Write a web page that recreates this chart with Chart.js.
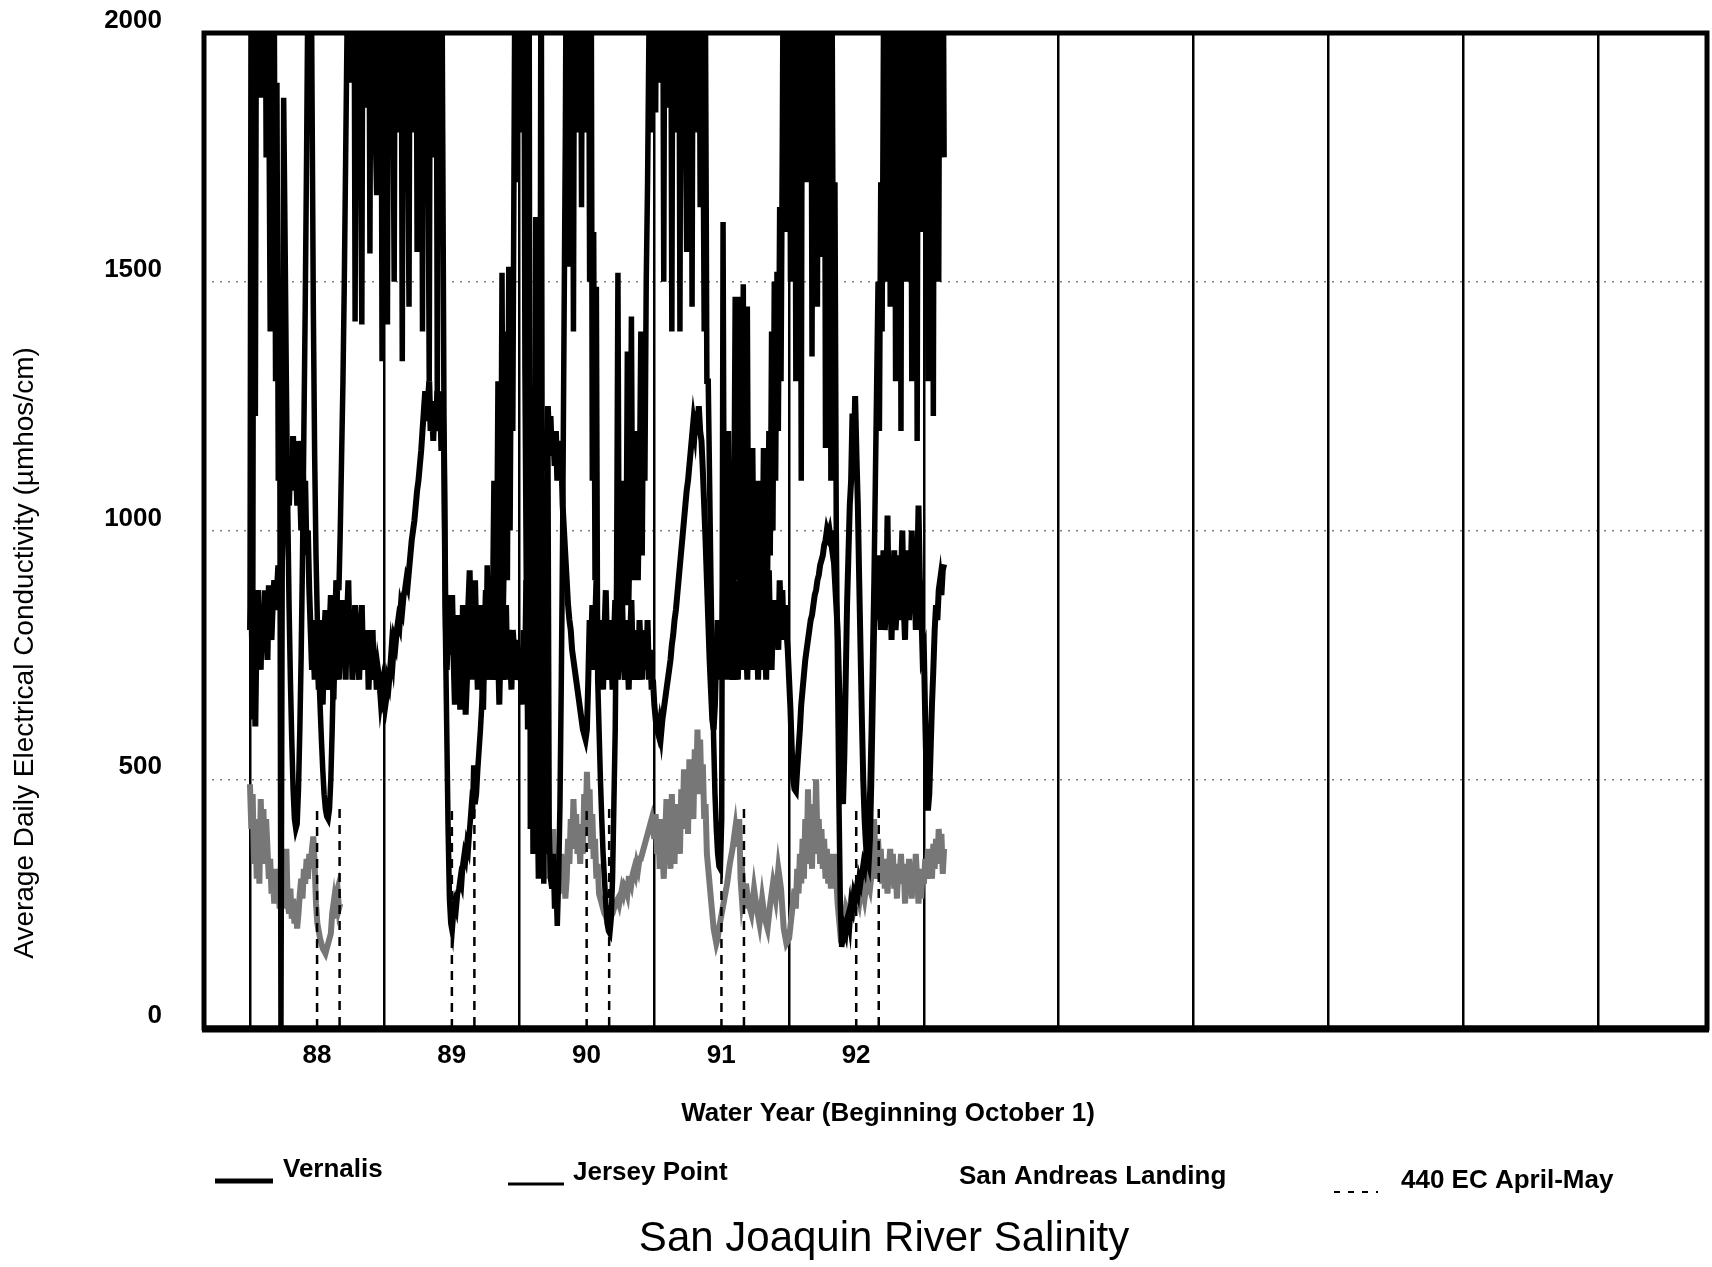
<!DOCTYPE html>
<html>
<head>
<meta charset="utf-8">
<title>San Joaquin River Salinity</title>
<script src="https://cdn.jsdelivr.net/npm/chart.js@4.4.1/dist/chart.umd.min.js"></script>
<style>
    html, body { margin: 0; padding: 0; background: #fff; }
    #chartBox { width: 1712px; height: 1267px; }
</style>
</head>
<body>
<div id="chartBox"><canvas id="salinityChart"></canvas></div>
<script>
// Time runs in years since October 1, 1987 (start of water year 88), one reading every 0.01 year.
// EC values in umhos/cm; readings above 2000 run off the top of the plot.

var stepYears = 0.01;

var yearLabels = ['88', '89', '90', '91', '92'];
var yearBoundaries = [0, 1, 2, 3, 4, 5, 6, 7, 8, 9, 10];
var ecTicks = [0, 500, 1000, 1500, 2000];

// 440 EC standard, April 1 to May 31 of each water year
var ecLimit = 440;
var ecWindowStart = [0.498, 1.498, 2.498, 3.498, 4.498];
var ecWindowEnd = [0.665, 1.665, 2.665, 3.665, 4.665];

// Jersey Point, from 0.00 to 5.15
var jerseyPointEC = [
    800, 2400, 620, 2400, 1230, 2400, 1900, 2400, 1870, 2400,
    2000, 2400, 1750, 2400, 1900, 1400, 2400, 1950, 2100, 1300,
    1900, 1100, 1400, 0, 1000, 1870, 1600, 1300, 1050, 850,
    700, 580, 480, 420, 400, 410, 480, 600, 750, 950,
    1200, 1450, 1750, 2100, 2400, 2400, 1900, 1450, 1150, 950,
    820, 720, 650, 580, 520, 470, 440, 425, 420, 440,
    500, 600, 720, 850, 780, 900, 880, 1000, 1150, 1300,
    1500, 1750, 2000, 2400, 1900, 2400, 2000, 2400, 1420, 2400,
    1900, 2400, 1800, 1414, 2400, 1950, 2400, 1850, 2400, 1557,
    2400, 1900, 2400, 1800, 1674, 2400, 1950, 2400, 1340, 2400,
    1900, 2400, 1414, 2400, 1850, 2400, 1950, 1500, 2400, 1900,
    2400, 1800, 2400, 1340, 2400, 1950, 2400, 1850, 1450, 2400,
    1900, 2400, 1800, 2400, 1560, 2400, 2000, 2400, 1400, 2400,
    1900, 2400, 1850, 1300, 2400, 1950, 2400, 1750, 2400, 1250,
    2400, 1900, 2400, 1800, 1200, 800, 600, 400, 260, 210,
    195, 230, 250, 240, 270, 280, 300, 290, 330, 350,
    340, 370, 360, 400, 436, 420, 528, 450, 470, 520,
    560, 600, 650, 710, 800, 700, 930, 750, 900, 700,
    850, 1100, 750, 900, 1300, 800, 950, 1518, 850, 1000,
    1400, 900, 1530, 1000, 1470, 1200, 1800, 2400, 1700, 2400,
    2400, 2400, 1800, 2400, 1330, 900, 600, 2400, 400, 900,
    350, 650, 1630, 500, 300, 800, 2400, 700, 290, 600,
    350, 1230, 400, 300, 280, 350, 240, 300, 205, 300,
    450, 700, 1000, 1400, 1800, 2400, 1530, 2400, 1900, 2400,
    1400, 2400, 2000, 2400, 1800, 2400, 1650, 2400, 1950, 2400,
    1800, 2400, 1500, 2400, 1100, 1600, 900, 1490, 700, 600,
    500, 420, 350, 300, 250, 210, 195, 190, 220, 300,
    450, 600, 900, 1518, 800, 950, 1100, 850, 1000, 900,
    1360, 850, 1000, 1430, 900, 1050, 950, 1200, 900, 1100,
    1400, 950, 1320, 1100, 1500, 1700, 2000, 2400, 1800, 2400,
    2400, 1840, 2400, 1950, 2400, 1900, 2400, 1500, 2400, 2000,
    2400, 1850, 2400, 1400, 2400, 1950, 2400, 1800, 2400, 1400,
    2400, 1900, 2400, 1850, 1560, 2400, 2000, 2400, 1450, 2400,
    1900, 2400, 1800, 2400, 1650, 2400, 1900, 1400, 2000, 1300,
    1300, 1100, 900, 720, 580, 470, 400, 350, 325, 320,
    420, 1620, 800, 1000, 850, 1200, 900, 1050, 800, 1000,
    1470, 900, 1100, 1470, 850, 1000, 1495, 800, 950, 1450,
    850, 1000, 800, 1166, 850, 950, 800, 1100, 850, 1000,
    900, 1166, 850, 1000, 900, 1200, 950, 1400, 1000, 1500,
    1100, 1520, 1200, 1650, 1300, 1800, 2400, 1600, 2400, 1700,
    2400, 1500, 2400, 1900, 2400, 1300, 2400, 1950, 2400, 1100,
    2400, 1850, 2400, 1700, 2400, 1950, 2400, 1350, 2400, 1900,
    2400, 1450, 2400, 1950, 2400, 1550, 2400, 1166, 2400, 1800,
    2400, 1100, 2000, 1300, 1700, 1000, 700, 450, 250, 163,
    180, 200, 190, 220, 230, 210, 250, 240, 270, 260,
    280, 270, 300, 290, 310, 330, 320, 350, 380, 420,
    480, 600, 750, 900, 1100, 1300, 1500, 1200, 1700, 1400,
    2000, 1500, 2400, 1900, 2400, 1450, 2400, 1850, 2400, 1300,
    2400, 1750, 2400, 1200, 2400, 1900, 2400, 1500, 2400, 1800,
    2400, 1300, 2400, 1900, 2400, 1180, 2400, 1750, 2400, 1600,
    2400, 1950, 2400, 1300, 2400, 1850, 2400, 1230, 2400, 1800,
    2400, 1500, 2400, 1900, 2400, 1750
];

// Vernalis, from 0.00 to 5.15
var vernalisEC = [
    800, 860, 700, 780, 606, 820, 880, 780, 720, 850,
    760, 880, 800, 740, 890, 820, 780, 860, 900, 840,
    880, 930, 850, 900, 950, 1000, 1050, 980, 1100, 1050,
    1150, 1100, 1190, 1080, 1150, 1050, 1180, 1100, 1000, 1150,
    1050, 1100, 950, 1000, 880, 800, 720, 780, 700, 820,
    760, 680, 820, 740, 650, 780, 840, 720, 680, 800,
    870, 720, 660, 780, 900, 760, 700, 800, 860, 740,
    780, 700, 820, 900, 760, 820, 700, 760, 850, 780,
    760, 700, 780, 850, 720, 790, 730, 800, 680, 760,
    730, 800, 700, 760, 680, 720, 700, 660, 680, 650,
    640, 660, 700, 690, 720, 760, 740, 780, 770, 800,
    820, 810, 850, 840, 870, 880, 900, 890, 920, 950,
    980, 1000, 1020, 1050, 1080, 1100, 1130, 1160, 1200, 1240,
    1280, 1220, 1260, 1300, 1200, 1250, 1180, 1260, 1200, 1280,
    1200, 1280, 1160, 1250, 1160, 850, 720, 800, 870, 750,
    870, 750, 650, 700, 830, 720, 640, 700, 850, 760,
    630, 700, 850, 920, 780, 700, 800, 900, 780, 680,
    760, 850, 730, 640, 780, 880, 700, 780, 850, 700,
    800, 750, 700, 820, 760, 650, 780, 880, 700, 760,
    850, 700, 800, 750, 680, 800, 760, 700, 780, 720,
    700, 750, 650, 800, 700, 900, 750, 850, 800, 950,
    900, 1050, 1000, 1100, 1080, 1150, 1100, 1180, 1120, 1200,
    1150, 1250, 1180, 1230, 1150, 1200, 1130, 1200, 1100, 1180,
    1100, 1150, 1050, 1000, 950, 900, 850, 820, 800, 760,
    740, 720, 700, 680, 660, 640, 620, 600, 590, 580,
    600, 700, 820, 760, 850, 720, 800, 900, 760, 700,
    820, 750, 680, 800, 880, 750, 700, 820, 760, 680,
    780, 860, 740, 700, 800, 760, 880, 750, 700, 820,
    760, 680, 780, 860, 740, 700, 800, 760, 700, 820,
    750, 700, 800, 760, 720, 820, 700, 760, 680, 700,
    650, 620, 600, 590, 610, 590, 620, 640, 660, 680,
    700, 720, 740, 770, 790, 820, 840, 870, 900, 930,
    960, 990, 1020, 1050, 1080, 1100, 1130, 1160, 1190, 1220,
    1200, 1240, 1210, 1250, 1200, 1180, 1120, 1050, 980, 900,
    820, 740, 680, 620, 600, 650, 750, 820, 700, 780,
    700, 900, 780, 850, 700, 820, 950, 760, 700, 850,
    900, 760, 700, 820, 900, 770, 720, 850, 780, 700,
    860, 920, 780, 720, 820, 860, 800, 700, 850, 780,
    720, 850, 780, 700, 860, 920, 780, 720, 820, 860,
    800, 860, 760, 900, 820, 880, 780, 850, 800, 760,
    700, 640, 560, 500, 480, 476, 520, 560, 600, 650,
    680, 710, 740, 760, 780, 800, 820, 830, 850, 870,
    880, 900, 910, 930, 940, 950, 970, 980, 1000, 990,
    1000, 980, 1000, 950, 900, 850, 800, 700, 600, 500,
    450, 550, 700, 850, 950, 1050, 1100, 1235, 1150, 1270,
    1150, 1050, 900, 760, 620, 500, 420, 370, 340, 330,
    380, 500, 650, 800, 900, 820, 880, 950, 800, 870,
    960, 800, 850, 1030, 820, 900, 780, 880, 960, 800,
    850, 950, 820, 900, 1000, 850, 780, 900, 960, 820,
    880, 1000, 850, 920, 800, 900, 1050, 900, 850, 750,
    760, 620, 500, 437, 470, 560, 650, 720, 800, 850,
    820, 880, 900, 870, 920, 932
];

// San Andreas Landing, two recorded stretches: from 0.00 to 0.67 and from 2.22 to 5.15
var sanAndreasStart88 = 0.00;
var sanAndreasEC88 = [
    490, 400, 470, 330, 420, 300, 380, 290, 460, 350,
    440, 330, 420, 360, 300, 340, 270, 310, 250, 320,
    260, 300, 240, 330, 270, 300, 240, 360, 250, 230,
    280, 220, 260, 210, 240, 200, 230, 270, 300, 260,
    320, 290, 340, 300, 350, 320, 360, 385, 330, 250,
    210, 195, 180, 170, 160, 155, 150, 160, 170, 180,
    190, 230, 250, 220, 270, 280, 240, 250
];
var sanAndreasStart90 = 2.22;
var sanAndreasEC90 = [
    300, 380, 320, 400, 300, 350, 280, 330,
    270, 350, 290, 320, 260, 300, 380, 330, 420, 360,
    460, 380, 430, 350, 400, 330, 410, 350, 470, 400,
    515, 420, 480, 360, 430, 340, 380, 300, 330, 270,
    260, 250, 240, 230, 225, 215, 218, 220, 225, 230,
    240, 245, 255, 260, 250, 265, 280, 270, 285, 280,
    270, 300, 300, 290, 310, 320, 310, 330, 320, 340,
    340, 350, 360, 370, 380, 390, 400, 410, 420, 400,
    380, 430, 350, 400, 320, 420, 360, 300, 380, 460,
    340, 400, 320, 470, 380, 330, 450, 360, 420, 350,
    480, 400, 520, 430, 480, 390, 540, 450, 500, 420,
    560, 470, 600, 500, 580, 470, 530, 420, 450, 350,
    320, 290, 260, 230, 200, 185, 170, 180, 200, 215,
    230, 245, 260, 275, 290, 310, 330, 345, 360, 380,
    400, 370, 370, 420, 300, 260, 280, 240, 290, 270,
    250, 240, 230, 255, 280, 260, 240, 225, 210, 235,
    260, 240, 220, 210, 200, 225, 250, 270, 290, 275,
    260, 290, 320, 300, 280, 240, 200, 185, 170, 175,
    180, 205, 230, 255, 280, 240, 320, 270, 350, 290,
    380, 300, 420, 330, 480, 360, 400, 320, 450, 350,
    500, 380, 420, 330, 400, 320, 380, 300, 360, 290,
    350, 280, 330, 290, 350, 300, 250, 220, 190, 195,
    200, 220, 240, 230, 220, 240, 260, 250, 240, 255,
    270, 260, 250, 270, 290, 275, 260, 280, 300, 290,
    280, 305, 330, 420, 350, 300, 380, 320, 360, 290,
    340, 280, 330, 270, 320, 360, 300, 350, 280, 330,
    260, 320, 300, 350, 290, 330, 250, 310, 280, 340,
    300, 260, 320, 290, 350, 300, 250, 300, 260, 320,
    290, 340, 300, 360, 310, 350, 300, 370, 320, 380,
    330, 400, 340, 390, 310, 360
];

function toSeries(values, startX) {
    return values.map(function (v, i) {
        return { x: Math.round((startX + i * stepYears) * 1000) / 1000, y: v };
    });
}

function sanAndreasPoints() {
    var first = toSeries(sanAndreasEC88, sanAndreasStart88);
    var gapX = first[first.length - 1].x + stepYears;
    return first.concat([{ x: gapX, y: null }], toSeries(sanAndreasEC90, sanAndreasStart90));
}

// vertical drops at the start and end of each April-May window, broken by gaps
function ecStandardPoints() {
    var pts = [];
    for (var i = 0; i < ecWindowStart.length; i++) {
        pts.push({ x: ecWindowStart[i], y: 0 }, { x: ecWindowStart[i], y: ecLimit }, { x: ecWindowStart[i], y: null });
        pts.push({ x: ecWindowEnd[i], y: ecLimit }, { x: ecWindowEnd[i], y: 0 }, { x: ecWindowEnd[i], y: null });
    }
    return pts;
}

var FONT = '"Liberation Sans", Arial, Helvetica, sans-serif';

// frame, axis titles, legend row and chart title
var pageText = {
    id: 'pageText',
    afterDraw: function (chart, args, opts) {
        var ctx = chart.ctx;
        var a = chart.chartArea;
        ctx.save();

        // heavy box round the plot
        ctx.strokeStyle = '#000';
        ctx.lineWidth = 5;
        ctx.strokeRect(a.left, a.top, a.right - a.left, a.bottom - a.top);
        ctx.lineWidth = 7;
        ctx.beginPath();
        ctx.moveTo(a.left - 2, a.bottom + 1);
        ctx.lineTo(a.right + 2, a.bottom + 1);
        ctx.stroke();

        ctx.fillStyle = '#000';
        ctx.textBaseline = 'middle';

        // y title
        ctx.save();
        ctx.translate(opts.yTitle.x, opts.yTitle.y);
        ctx.rotate(-Math.PI / 2);
        ctx.textAlign = 'center';
        ctx.font = opts.yTitle.font;
        ctx.fillText(opts.yTitle.text, 0, 0);
        ctx.restore();

        // x title
        ctx.textAlign = 'center';
        ctx.font = opts.xTitle.font;
        ctx.fillText(opts.xTitle.text, opts.xTitle.x, opts.xTitle.y);

        // legend, one slot per dataset
        ctx.textAlign = 'left';
        ctx.font = opts.legend.font;
        chart.data.datasets.forEach(function (ds, i) {
            var slot = opts.legend.slots[i];
            if (!slot) return;
            if (slot.sample) {
                ctx.save();
                ctx.strokeStyle = ds.borderColor;
                ctx.lineWidth = slot.sampleWidth;
                ctx.setLineDash(ds.borderDash ? [6, 8] : []);
                ctx.beginPath();
                ctx.moveTo(slot.x, slot.lineY);
                ctx.lineTo(slot.x + slot.sample, slot.lineY);
                ctx.stroke();
                ctx.restore();
            }
            ctx.fillText(ds.label, slot.textX, slot.y);
        });

        // chart title
        ctx.textAlign = 'center';
        ctx.font = opts.title.font;
        ctx.fillText(opts.title.text, opts.title.x, opts.title.y);

        ctx.restore();
    }
};

var ctx = document.getElementById('salinityChart').getContext('2d');

new Chart(ctx, {
    type: 'line',
    data: {
        datasets: [
            {
                label: 'Vernalis',
                data: toSeries(vernalisEC, 0),
                borderColor: '#000',
                borderWidth: 6,
                order: 2
            },
            {
                label: 'Jersey Point',
                data: toSeries(jerseyPointEC, 0),
                borderColor: '#000',
                borderWidth: 5.5,
                order: 1
            },
            {
                label: 'San Andreas Landing',
                data: sanAndreasPoints(),
                borderColor: '#777',
                borderWidth: 6,
                order: 3
            },
            {
                label: '440 EC April-May',
                data: ecStandardPoints(),
                borderColor: '#000',
                borderWidth: 2.5,
                borderDash: [9, 7],
                order: 0
            }
        ]
    },
    options: {
        responsive: true,
        maintainAspectRatio: false,
        animation: false,
        spanGaps: false,
        layout: {
            autoPadding: false,
            padding: { top: 33, right: 5, bottom: 0, left: 0 }
        },
        elements: {
            point: { radius: 0, hoverRadius: 0 },
            line: { tension: 0, borderJoinStyle: 'miter', borderCapStyle: 'butt' }
        },
        scales: {
            x: {
                type: 'linear',
                min: -0.341,
                max: 10.81,
                afterFit: function (scale) {
                    scale.height = 239;
                    scale.paddingLeft = 0;
                    scale.paddingRight = 0;
                },
                afterBuildTicks: function (scale) {
                    scale.ticks = yearBoundaries.map(function (v) { return { value: v }; });
                },
                border: { display: false },
                grid: {
                    color: '#000',
                    lineWidth: 2.5,
                    drawTicks: false
                },
                ticks: {
                    autoSkip: false,
                    maxRotation: 0,
                    padding: 12,
                    labelOffset: 67,
                    color: '#000',
                    font: { family: FONT, size: 26, weight: 'bold' },
                    callback: function (value) {
                        return yearLabels[value] !== undefined ? yearLabels[value] : '';
                    }
                }
            },
            y: {
                min: 0,
                max: 2000,
                afterFit: function (scale) {
                    scale.width = 204;
                    scale.paddingTop = 0;
                    scale.paddingBottom = 0;
                },
                afterBuildTicks: function (scale) {
                    scale.ticks = ecTicks.map(function (v) { return { value: v }; });
                },
                border: { display: false, dash: [2, 6] },
                grid: {
                    drawTicks: false,
                    lineWidth: 1.5,
                    color: function (c) {
                        var v = c.tick ? c.tick.value : 0;
                        return (v > 0 && v < 2000) ? 'rgba(0,0,0,0.5)' : 'rgba(0,0,0,0)';
                    }
                },
                ticks: {
                    padding: 42,
                    labelOffset: -12,
                    color: '#000',
                    font: { family: FONT, size: 26, weight: 'bold' },
                    callback: function (value) { return String(value); }
                }
            }
        },
        plugins: {
            legend: { display: false },
            title: { display: false },
            tooltip: { enabled: false },
            pageText: {
                yTitle: {
                    text: 'Average Daily Electrical Conductivity (\u00b5mhos/cm)',
                    x: 25, y: 653,
                    font: '28px ' + FONT
                },
                xTitle: {
                    text: 'Water Year (Beginning October 1)',
                    x: 888, y: 1114,
                    font: 'bold 26px ' + FONT
                },
                legend: {
                    font: 'bold 26px ' + FONT,
                    slots: [
                        { x: 215, sample: 58, sampleWidth: 5, lineY: 1181, textX: 283, y: 1170 },
                        { x: 508, sample: 56, sampleWidth: 3, lineY: 1184, textX: 573, y: 1173 },
                        { x: 900, sample: 0, sampleWidth: 0, lineY: 1180, textX: 959, y: 1177 },
                        { x: 1334, sample: 44, sampleWidth: 2, lineY: 1192, textX: 1401, y: 1181 }
                    ]
                },
                title: {
                    text: 'San Joaquin River Salinity',
                    x: 884, y: 1239,
                    font: '42px ' + FONT
                }
            }
        }
    },
    plugins: [pageText]
});
</script>
</body>
</html>
